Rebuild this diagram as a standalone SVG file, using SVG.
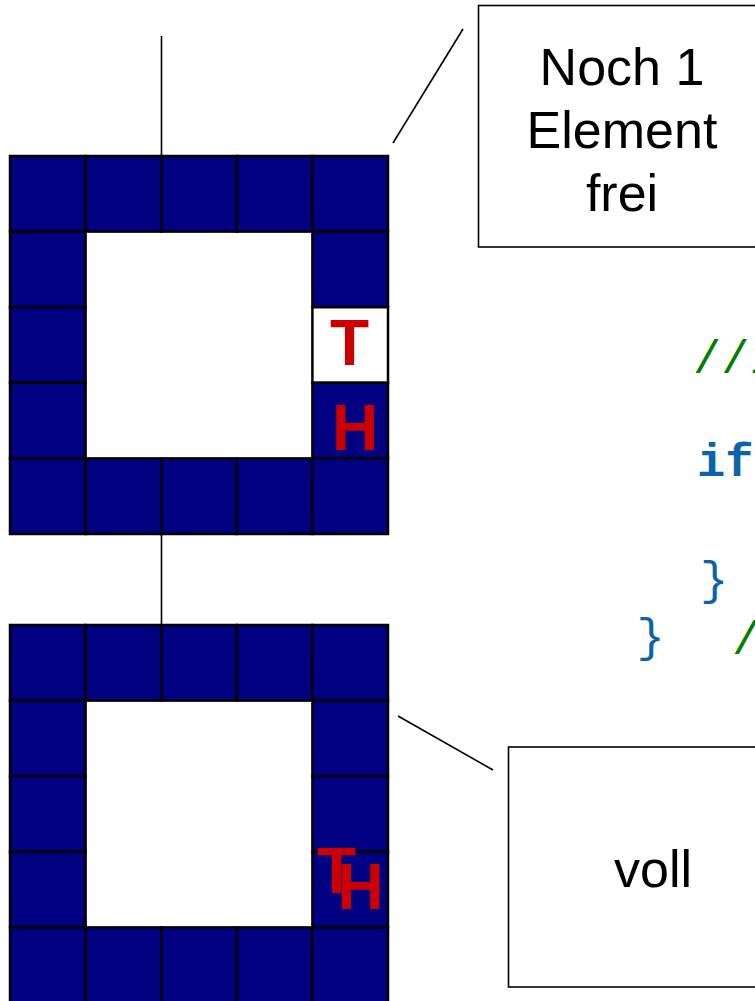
<svg xmlns="http://www.w3.org/2000/svg" width="755" height="1001" viewBox="0 0 755 1001">
<style>
.c{fill:#000080;stroke:#000;stroke-width:2.5}
.w{fill:#fff;stroke:#000;stroke-width:2.5}
.ln{stroke:#000;stroke-width:1.6;fill:none}
.box{fill:#fff;stroke:#000;stroke-width:1.6}
.lbl{font-family:"Liberation Sans",Arial,sans-serif;font-size:52px;fill:#000;text-anchor:middle}
.th{font-family:"Liberation Sans",Arial,sans-serif;font-size:64px;font-weight:bold;fill:#cc0000;text-anchor:middle}
.cm{font-family:"Liberation Mono","Courier New",monospace;font-size:47px;fill:#008000}
.cd{font-family:"Liberation Mono","Courier New",monospace;font-size:47px;fill:#0b63a8}
</style>
<rect width="755" height="1001" fill="#fff"/>
<g id="connectors">
<line class="ln" x1="161.5" y1="36" x2="161.5" y2="156"/>
<line class="ln" x1="161.5" y1="534" x2="161.5" y2="625"/>
<line class="ln" x1="393" y1="143" x2="463" y2="29"/>
<line class="ln" x1="398" y1="716" x2="493" y2="770"/>
</g>
<g id="grid-top">
<rect class="c" x="10" y="156" width="75.6" height="75.6"/>
<rect class="c" x="85.6" y="156" width="75.6" height="75.6"/>
<rect class="c" x="161.2" y="156" width="75.6" height="75.6"/>
<rect class="c" x="236.8" y="156" width="75.6" height="75.6"/>
<rect class="c" x="312.4" y="156" width="75.6" height="75.6"/>
<rect class="c" x="10" y="231.6" width="75.6" height="75.6"/>
<rect class="c" x="312.4" y="231.6" width="75.6" height="75.6"/>
<rect class="c" x="10" y="307.2" width="75.6" height="75.6"/>
<rect class="w" x="312.4" y="307.2" width="75.6" height="75.6"/>
<rect class="c" x="10" y="382.8" width="75.6" height="75.6"/>
<rect class="c" x="312.4" y="382.8" width="75.6" height="75.6"/>
<rect class="c" x="10" y="458.4" width="75.6" height="75.6"/>
<rect class="c" x="85.6" y="458.4" width="75.6" height="75.6"/>
<rect class="c" x="161.2" y="458.4" width="75.6" height="75.6"/>
<rect class="c" x="236.8" y="458.4" width="75.6" height="75.6"/>
<rect class="c" x="312.4" y="458.4" width="75.6" height="75.6"/>
<text class="th" x="349.5" y="365">T</text>
<text class="th" x="355" y="450">H</text>
</g>
<g id="grid-bottom">
<rect class="c" x="10" y="625" width="75.6" height="75.6"/>
<rect class="c" x="85.6" y="625" width="75.6" height="75.6"/>
<rect class="c" x="161.2" y="625" width="75.6" height="75.6"/>
<rect class="c" x="236.8" y="625" width="75.6" height="75.6"/>
<rect class="c" x="312.4" y="625" width="75.6" height="75.6"/>
<rect class="c" x="10" y="700.6" width="75.6" height="75.6"/>
<rect class="c" x="312.4" y="700.6" width="75.6" height="75.6"/>
<rect class="c" x="10" y="776.2" width="75.6" height="75.6"/>
<rect class="c" x="312.4" y="776.2" width="75.6" height="75.6"/>
<rect class="c" x="10" y="851.8" width="75.6" height="75.6"/>
<rect class="c" x="312.4" y="851.8" width="75.6" height="75.6"/>
<rect class="c" x="10" y="927.4" width="75.6" height="75.6"/>
<rect class="c" x="85.6" y="927.4" width="75.6" height="75.6"/>
<rect class="c" x="161.2" y="927.4" width="75.6" height="75.6"/>
<rect class="c" x="236.8" y="927.4" width="75.6" height="75.6"/>
<rect class="c" x="312.4" y="927.4" width="75.6" height="75.6"/>
<text class="th" x="336.5" y="893">T</text>
<text class="th" x="360.5" y="909">H</text>
</g>
<g id="callout-frei">
<rect class="box" x="478.5" y="5.5" width="300" height="241.5"/>
<text class="lbl" x="622" y="85">Noch 1</text>
<text class="lbl" x="622" y="148">Element</text>
<text class="lbl" x="622" y="211">frei</text>
</g>
<g id="callout-voll">
<rect class="box" x="508.5" y="747" width="300" height="240"/>
<text class="lbl" x="653" y="887">voll</text>
</g>
<g id="code">
<text class="cm" x="693" y="373">//i</text>
<text class="cd" x="697" y="476" font-weight="bold">if</text>
<text class="cd" x="700" y="594">}</text>
<text class="cd" x="636.5" y="651">}</text>
<text class="cm" x="732" y="654">/</text>
</g>
</svg>
